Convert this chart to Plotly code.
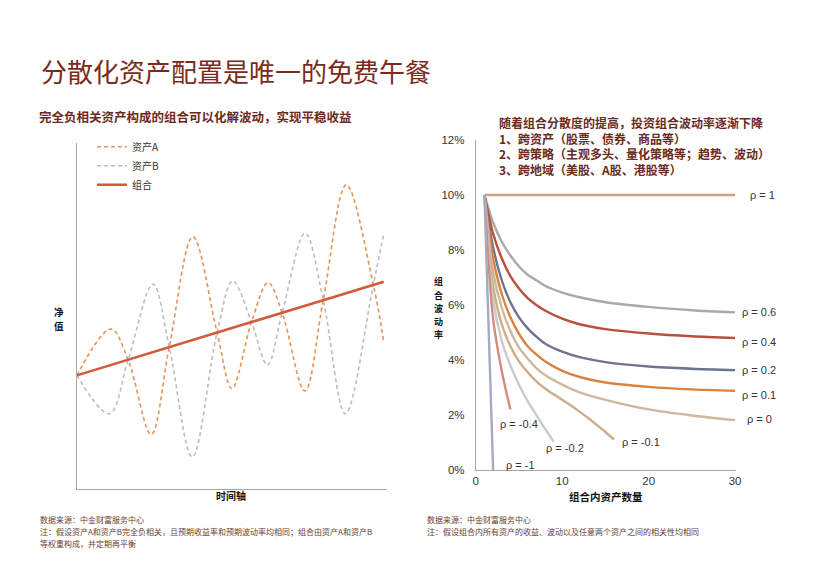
import plotly.graph_objects as go

W, H = 829, 563

# ---------------- Left chart data (time axis 0-100, net value 0-100) ----------------
a_time = [0, 11.1, 16.7, 24.2, 30.1, 37.8, 45.7, 50.5, 56.9, 62.3, 66.9, 74.3, 80.3, 87.8, 96.6, 100]
a_value = [32.8, 46.2, 37.3, 15.7, 41.0, 72.9, 45.2, 29.0, 48.2, 59.6, 50.9, 28.3, 54.6, 87.9, 59.0, 42.5]
b_time = [0, 10.6, 16.7, 24.8, 30.1, 37.6, 45.7, 50.8, 56.9, 62.1, 66.9, 74.4, 80.3, 87.5, 96.6, 100]
b_value = [32.8, 21.7, 37.3, 59.2, 41.0, 9.2, 45.2, 60.1, 48.2, 35.8, 50.9, 73.9, 54.6, 21.7, 59.0, 73.6]
p_time = [0, 100]
p_value = [32.8, 59.9]

# ---------------- Right chart data (number of assets, volatility %) ----------------
n_grid = [1, 2, 3, 4, 5, 6, 7, 8, 10, 12, 15, 20, 25, 30]
vol_rho = {
    "1": ([1, 30], [10, 10]),
    "0.6": (n_grid, [10, 9.0, 8.3, 7.8, 7.4, 7.1, 6.9, 6.7, 6.45, 6.28, 6.1, 5.93, 5.81, 5.73]),
    "0.4": (n_grid, [10, 8.6, 7.7, 7.05, 6.6, 6.25, 6.0, 5.8, 5.5, 5.3, 5.12, 4.96, 4.86, 4.8]),
    "0.2": (n_grid, [10, 8.1, 6.9, 6.1, 5.55, 5.15, 4.85, 4.6, 4.3, 4.1, 3.92, 3.76, 3.68, 3.63]),
    "0.1": (n_grid, [10, 7.7, 6.4, 5.55, 4.95, 4.5, 4.2, 3.95, 3.6, 3.38, 3.18, 3.02, 2.93, 2.88]),
    "0": (n_grid, [10, 7.2, 5.9, 5.05, 4.45, 4.05, 3.7, 3.45, 3.1, 2.82, 2.55, 2.2, 1.98, 1.81]),
    "-0.1": ([1, 2, 3, 4, 5, 6, 7, 8, 9, 10, 11, 12, 13, 14, 15, 16],
             [10, 6.7, 5.3, 4.5, 3.95, 3.55, 3.22, 2.96, 2.75, 2.55, 2.34, 2.12, 1.89, 1.64, 1.38, 1.1]),
    "-0.2": ([1, 2, 3, 4, 5, 6, 7, 8, 9], [10, 6.2, 4.7, 3.8, 3.1, 2.5, 2.0, 1.5, 1.03]),
    "-0.4": ([1, 2, 3, 4], [10, 5.5, 3.6, 2.2]),
    "-1": ([1, 2], [10, 0]),
}
rho_colors = {
    "1": "#C9A47E", "0.6": "#A9A9A9", "0.4": "#B9503E", "0.2": "#6E7490",
    "0.1": "#D9833E", "0": "#CDB89C", "-0.1": "#CBAE88", "-0.2": "#CACACA",
    "-0.4": "#D58C80", "-1": "#A3ABC2",
}
y_ticks = [0, 2, 4, 6, 8, 10, 12]
y_tick_text = ["0%", "2%", "4%", "6%", "8%", "10%", "12%"]
x_ticks = [0, 10, 20, 30]

CJK = "Noto Sans CJK SC"
LAT = "Liberation Sans, Arial"
BROWN = "#7A2B1B"
AX = "#A6A6A6"

# label placement (pixels: left edge, vertical centre)
rho_label_px = {
    "1": (753, 193), "0.6": (745, 313), "0.4": (745, 343), "0.2": (745, 372),
    "0.1": (745, 397), "0": (750, 422), "-0.1": (624, 445), "-0.2": (547, 452),
    "-0.4": (500, 427), "-1": (506, 469),
}

def px(x):
    return x / W

def py(y):
    return 1 - y / H

fig = go.Figure()

fig.add_trace(go.Scatter(x=a_time, y=a_value, mode="lines", name="资产A",
                         line=dict(color="#E4935A", width=1.6, dash="4px,3px", shape="spline", smoothing=1.0),
                         xaxis="x", yaxis="y"))
fig.add_trace(go.Scatter(x=b_time, y=b_value, mode="lines", name="资产B",
                         line=dict(color="#BDBDBD", width=1.6, dash="4px,3px", shape="spline", smoothing=1.0),
                         xaxis="x", yaxis="y"))
fig.add_trace(go.Scatter(x=p_time, y=p_value, mode="lines", name="组合",
                         line=dict(color="#D05A3A", width=2.6),
                         xaxis="x", yaxis="y"))

for key, (xs, ys) in vol_rho.items():
    fig.add_trace(go.Scatter(x=xs, y=ys, mode="lines", showlegend=False,
                             line=dict(color=rho_colors[key], width=2.4, shape="spline", smoothing=0.8),
                             xaxis="x2", yaxis="y2"))

annotations = []

def txt(x, y, text, size, color="#222", bold=False, family=CJK, anchor="left", yanchor="middle"):
    if bold:
        text = "<b>" + text + "</b>"
    annotations.append(dict(x=px(x), y=py(y), xref="paper", yref="paper", text=text, showarrow=False,
                            xanchor=anchor, yanchor=yanchor, align="left",
                            font=dict(family=family, size=size, color=color)))

for key, (lx, ly) in rho_label_px.items():
    txt(lx, ly, "ρ = " + key, 11, "#333333", family=LAT)

txt(36, 66, "分散化资产配置是唯一的免费午餐", 26, BROWN)
txt(34, 113, "完全负相关资产构成的组合可以化解波动，实现平稳收益", 12.5, "#6B2A1C", bold=True)
right_lines = ["随着组合分散度的提高，投资组合波动率逐渐下降",
               "1、跨资产（股票、债券、商品等）",
               "2、跨策略（主观多头、量化策略等；趋势、波动）",
               "3、跨地域（美股、A股、港股等）"]
txt(499, 108, "<br>".join(right_lines), 12, "#6B2A1C", bold=True, yanchor="top")

# vertical axis titles, one character per annotation
for i, ch in enumerate("净值"):
    txt(57, 313 + i * 14, ch, 9.5, "#111", bold=True, anchor="center")
for i, ch in enumerate("组合波动率"):
    txt(440, 282 + i * 13.5, ch, 9, "#111", bold=True, anchor="center")
txt(230, 500, "时间轴", 10, "#111", bold=True, anchor="center")
txt(610, 501, "组合内资产数量", 10.5, "#111", bold=True, anchor="center")

FOOT = "#6B4030"
txt(35, 525, "数据来源：中金财富服务中心", 8, FOOT)
txt(35, 537, "注：假设资产A和资产B完全负相关，且预期收益率和预期波动率均相同；组合由资产A和资产B", 8, FOOT)
txt(35, 549, "等权重构成，并定期再平衡", 8, FOOT)
txt(427, 525, "数据来源：中金财富服务中心", 8, FOOT)
txt(427, 537, "注：假设组合内所有资产的收益、波动以及任意两个资产之间的相关性均相同", 8, FOOT)

fig.update_layout(
    width=W, height=H, margin=dict(l=0, r=0, t=0, b=0),
    paper_bgcolor="white", plot_bgcolor="white",
    font=dict(family=CJK, size=11, color="#333"),
    showlegend=True,
    legend=dict(x=px(90), y=py(129), xanchor="left", yanchor="top", bgcolor="rgba(0,0,0,0)",
                font=dict(family=CJK, size=10, color="#333"), itemwidth=30, tracegroupgap=0),
    xaxis=dict(domain=[px(74.7), px(388)], range=[0, 101], showgrid=False, zeroline=False,
               showline=True, linecolor=AX, linewidth=1, showticklabels=False, ticks=""),
    yaxis=dict(domain=[py(493.3), py(140)], range=[0, 100], showgrid=False, zeroline=False,
               showline=True, linecolor=AX, linewidth=1, showticklabels=False, ticks=""),
    xaxis2=dict(domain=[px(478), px(741)], range=[0, 30.1], showgrid=False, zeroline=False,
                showline=True, linecolor=AX, linewidth=1, tickvals=x_ticks, ticks="",
                tickfont=dict(family=LAT, size=11.5, color="#333"), anchor="y2"),
    yaxis2=dict(domain=[py(474), py(137)], range=[0, 12], showgrid=False, zeroline=False,
                showline=True, linecolor=AX, linewidth=1, tickvals=y_ticks, ticktext=y_tick_text, ticks="",
                tickfont=dict(family=LAT, size=11.5, color="#333"), anchor="x2", ticklabelstandoff=8),
    annotations=annotations,
)

fig.write_html("out.html")
